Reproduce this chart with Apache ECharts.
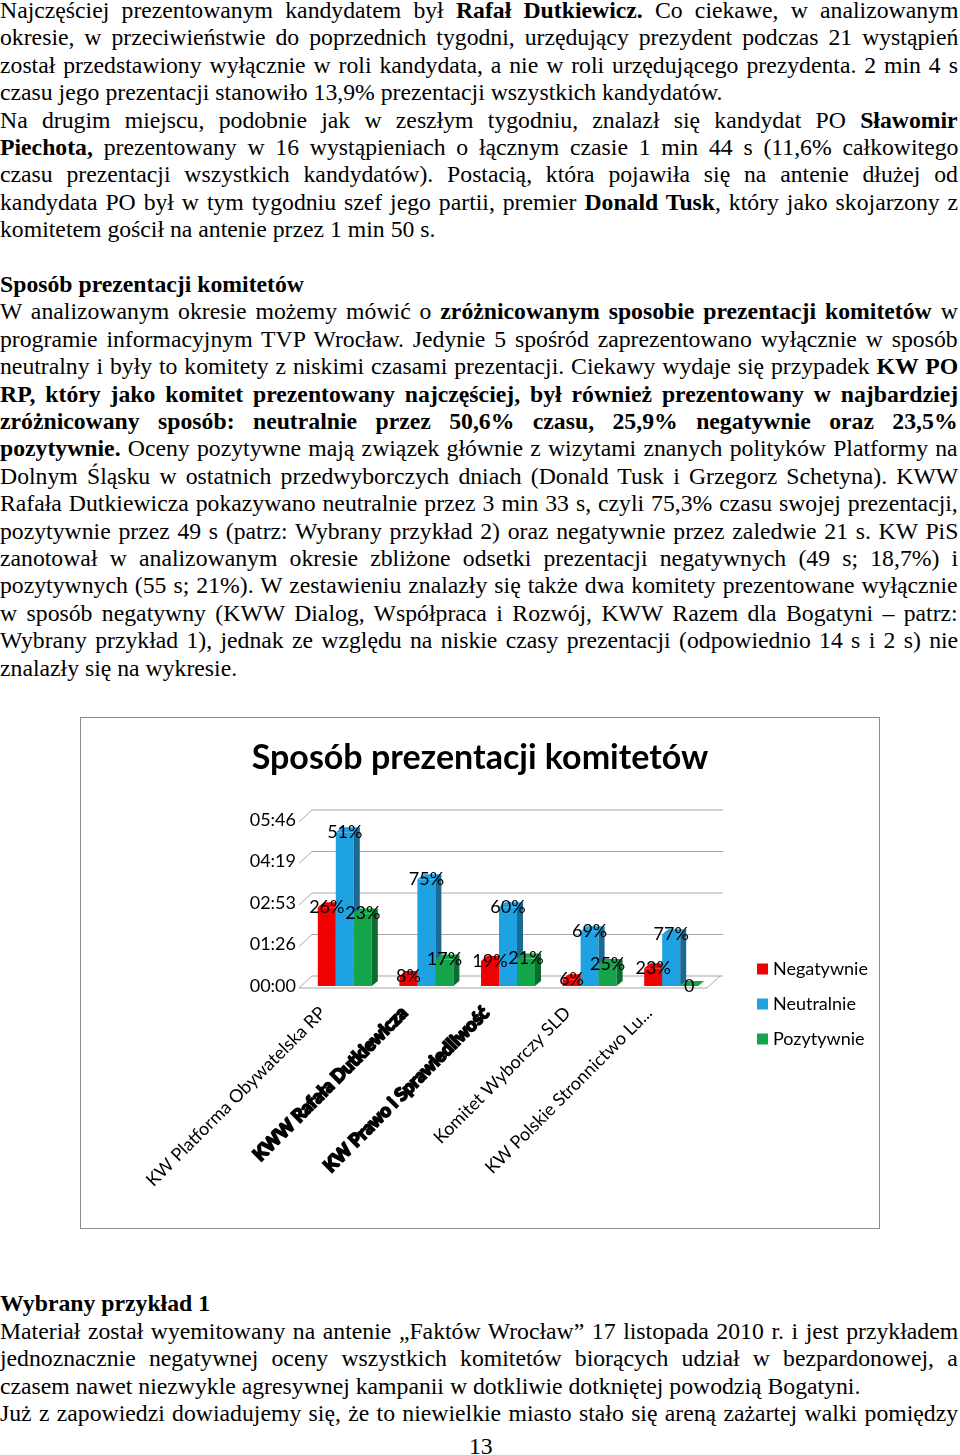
<!DOCTYPE html>
<html>
<head>
<meta charset="utf-8">
<script src="https://cdn.jsdelivr.net/npm/echarts/dist/echarts.min.js"></script>
<style>
body { margin: 0; width: 960px; height: 1455px; position: relative; overflow: hidden; background: #fff;
       font-family: "Liberation Serif", "Times New Roman", serif; font-size: 23px; color: #000; }
.ln { position: absolute; left: 0; white-space: pre; line-height: 27.4px; transform-origin: 0 0; }
#chart { position: absolute; left: 80px; top: 717px; width: 800px; height: 512px;
         border: 1px solid #8c8c8c; box-sizing: border-box; }
</style>
</head>
<body>
<div class="blk" data-top="-3">
<div class="ln j">Najczęściej prezentowanym kandydatem był <b>Rafał Dutkiewicz.</b> Co ciekawe, w analizowanym</div>
<div class="ln j">okresie, w przeciwieństwie do poprzednich tygodni, urzędujący prezydent podczas 21 wystąpień</div>
<div class="ln j">został przedstawiony wyłącznie w roli kandydata, a nie w roli urzędującego prezydenta. 2 min 4 s</div>
<div class="ln">czasu jego prezentacji stanowiło 13,9% prezentacji wszystkich kandydatów.</div>
<div class="ln j">Na drugim miejscu, podobnie jak w zeszłym tygodniu, znalazł się kandydat PO <b>Sławomir</b></div>
<div class="ln j"><b>Piechota,</b> prezentowany w 16 wystąpieniach o łącznym czasie 1 min 44 s (11,6% całkowitego</div>
<div class="ln j">czasu prezentacji wszystkich kandydatów). Postacią, która pojawiła się na antenie dłużej od</div>
<div class="ln j">kandydata PO był w tym tygodniu szef jego partii, premier <b>Donald Tusk</b>, który jako skojarzony z</div>
<div class="ln">komitetem gościł na antenie przez 1 min 50 s.</div>
<div class="ln"></div>
<div class="ln"><b>Sposób prezentacji komitetów</b></div>
<div class="ln j">W analizowanym okresie możemy mówić o <b>zróżnicowanym sposobie prezentacji komitetów</b> w</div>
<div class="ln j">programie informacyjnym TVP Wrocław. Jedynie 5 spośród zaprezentowano wyłącznie w sposób</div>
<div class="ln j">neutralny i były to komitety z niskimi czasami prezentacji. Ciekawy wydaje się przypadek <b>KW PO</b></div>
<div class="ln j"><b>RP, który jako komitet prezentowany najczęściej, był również prezentowany w najbardziej</b></div>
<div class="ln j"><b>zróżnicowany sposób: neutralnie przez 50,6% czasu, 25,9% negatywnie oraz 23,5%</b></div>
<div class="ln j"><b>pozytywnie.</b> Oceny pozytywne mają związek głównie z wizytami znanych polityków Platformy na</div>
<div class="ln j">Dolnym Śląsku w ostatnich przedwyborczych dniach (Donald Tusk i Grzegorz Schetyna). KWW</div>
<div class="ln j">Rafała Dutkiewicza pokazywano neutralnie przez 3 min 33 s, czyli 75,3% czasu swojej prezentacji,</div>
<div class="ln j">pozytywnie przez 49 s (patrz: Wybrany przykład 2) oraz negatywnie przez zaledwie 21 s. KW PiS</div>
<div class="ln j">zanotował w analizowanym okresie zbliżone odsetki prezentacji negatywnych (49 s; 18,7%) i</div>
<div class="ln j">pozytywnych (55 s; 21%). W zestawieniu znalazły się także dwa komitety prezentowane wyłącznie</div>
<div class="ln j">w sposób negatywny (KWW Dialog, Współpraca i Rozwój, KWW Razem dla Bogatyni – patrz:</div>
<div class="ln j">Wybrany przykład 1), jednak ze względu na niskie czasy prezentacji (odpowiednio 14 s i 2 s) nie</div>
<div class="ln">znalazły się na wykresie.</div>
</div>

<div id="chart"></div>

<div class="blk" data-top="1290.3">
<div class="ln"><b>Wybrany przykład 1</b></div>
<div class="ln j">Materiał został wyemitowany na antenie „Faktów Wrocław” 17 listopada 2010 r. i jest przykładem</div>
<div class="ln j">jednoznacznie negatywnej oceny wszystkich komitetów biorących udział w bezpardonowej, a</div>
<div class="ln">czasem nawet niezwykle agresywnej kampanii w dotkliwie dotkniętej powodzią Bogatyni.</div>
<div class="ln j">Już z zapowiedzi dowiadujemy się, że to niewielkie miasto stało się areną zażartej walki pomiędzy</div>
</div>
<div class="ln" id="pageno" style="top:1432.6px;left:469px">13</div>

<script>
// page text: squeeze the serif font like the scan, justify full lines
var ref = document.createElement('span');
ref.textContent = 'czasu jego prezentacji stanowiło 13,9% prezentacji wszystkich kandydatów.';
ref.style.cssText = 'position:absolute;visibility:hidden;white-space:pre;font-size:23px';
document.body.appendChild(ref);
var S = 722 / ref.offsetWidth;
document.querySelectorAll('.blk').forEach(function (blk) {
    var t0 = parseFloat(blk.dataset.top);
    Array.prototype.forEach.call(blk.children, function (ln, i) {
        ln.style.top = (t0 + 27.4 * i) + 'px';
        ln.style.transform = 'scaleX(' + S + ')';
        if (ln.classList.contains('j')) {
            var w = ln.offsetWidth;
            var n = (ln.textContent.match(/ /g) || []).length;
            ln.style.wordSpacing = ((958 / S - w) / n) + 'px';
        }
    });
});
document.getElementById('pageno').style.transform = 'scaleX(' + S + ')';

// chart data (seconds)
var categories = ['KW Platforma Obywatelska RP', 'KWW Rafała Dutkiewicza', 'KW Prawo i Sprawiedliwość',
    'Komitet Wyborczy SLD', 'KW Polskie Stronnictwo Lu...'];
var negatywnie = [164, 21, 52, 14, 37];
var neutralnie = [320, 222, 164, 114, 108];
var pozytywnie = [151, 55, 57, 46, 0];
var negLabels = ['26%', '8%', '19%', '6%', '23%'];
var neuLabels = ['51%', '75%', '60%', '69%', '77%'];
var pozLabels = ['23%', '17%', '21%', '25%', '0'];
var yTicks = [0, 86.4, 172.8, 259.2, 345.6];

var myChart = echarts.init(document.getElementById('chart'));

function mmss(v) {
    var s = Math.round(v);
    var m = Math.floor(s / 60);
    s = s % 60;
    return (m < 10 ? '0' : '') + m + ':' + (s < 10 ? '0' : '') + s;
}

var BAR_W = 18, DX = 6, DY = 5;

function barSeries(name, values, labels, si, face, side) {
    return {
        name: name,
        type: 'custom',
        xAxisIndex: 0,
        yAxisIndex: 0,
        z: 3,
        itemStyle: { color: face },
        data: values.map(function (v, i) { return [i, v]; }),
        renderItem: function (params, api) {
            var idx = api.value(0);
            var top = api.coord([idx, api.value(1)]);
            var base = api.coord([idx, 0]);
            var x = top[0] + (si - 1) * BAR_W - BAR_W / 2;
            var yt = top[1], yb = base[1];
            return {
                type: 'group',
                children: [
                    { type: 'rect', shape: { x: x, y: yt, width: BAR_W, height: yb - yt }, style: { fill: face } },
                    { type: 'polygon', shape: { points: [[x + BAR_W, yt], [x + BAR_W + DX, yt - DY], [x + BAR_W + DX, yb - DY], [x + BAR_W, yb]] },
                      style: { fill: side } },
                    { type: 'polygon', shape: { points: [[x, yt], [x + DX, yt - DY], [x + BAR_W + DX, yt - DY], [x + BAR_W, yt]] },
                      style: { fill: face } },
                    { type: 'text', z2: 10, style: { text: labels[idx], x: x + BAR_W / 2, y: yt, align: 'center', verticalAlign: 'middle',
                      font: '18px Lato', fill: '#000' } }
                ]
            };
        }
    };
}

var chartOption = {
    animation: false,
    title: {
        text: 'Sposób prezentacji komitetów',
        left: 'center',
        top: 18,
        textStyle: { fontFamily: 'Lato', fontSize: 34, fontWeight: 'bold', color: '#000' }
    },
    legend: {
        data: ['Negatywnie', 'Neutralnie', 'Pozytywnie'],
        orient: 'vertical',
        left: 671,
        top: 237,
        itemWidth: 11,
        itemHeight: 11,
        itemGap: 17,
        icon: 'rect',
        textStyle: { fontFamily: 'Lato', fontSize: 18, color: '#000' }
    },
    grid: [
        { left: 223, top: 102, width: 408, height: 166 },
        { left: 201, top: 102, width: 408, height: 166 }
    ],
    xAxis: [
        { type: 'category', gridIndex: 0, data: categories, axisLine: { show: false }, axisTick: { show: false },
          axisLabel: { show: false } },
        { type: 'category', gridIndex: 1, data: categories, axisLine: { show: false }, axisTick: { show: false },
          axisLabel: {
              interval: 0, rotate: 45, margin: 24, fontFamily: 'Lato', fontSize: 18, color: '#000',
              formatter: function (v, i) { return (i === 1 || i === 2) ? '{h|' + v + '}' : v; },
              rich: { h: { fontFamily: 'Lato', fontSize: 18, fontWeight: 'bold', color: '#000',
                           textBorderColor: '#000', textBorderWidth: 2 } }
          } }
    ],
    yAxis: [
        { type: 'value', gridIndex: 0, min: 0, max: 345.6, interval: 86.4,
          axisLine: { show: false }, axisTick: { show: false }, splitLine: { show: false },
          axisLabel: { margin: 8, fontFamily: 'Lato', fontSize: 18, color: '#000', formatter: mmss } },
        { type: 'value', gridIndex: 1, min: 0, max: 345.6, show: false }
    ],
    series: [
        {
            name: 'walls',
            type: 'custom',
            xAxisIndex: 0,
            yAxisIndex: 0,
            z: 1,
            silent: true,
            data: yTicks.map(function (v) { return [0, v]; }),
            renderItem: function (params, api) {
                var cs = params.coordSys;
                var v = api.value(1);
                var y = api.coord([0, v])[1];
                var x0 = cs.x - 5, x1 = cs.x + cs.width - 5;
                var yf = y + 2, yk = y - 10;
                var st = { stroke: '#a8a8a8', lineWidth: 1 };
                var kids = [
                    { type: 'line', shape: { x1: x0, y1: yf, x2: x0 + 13, y2: yk }, style: st },
                    { type: 'line', shape: { x1: x0 + 13, y1: yk, x2: x1 + 16, y2: yk }, style: st }
                ];
                if (v === 0) {
                    kids.push({ type: 'line', shape: { x1: x0, y1: yf, x2: x1, y2: yf }, style: st });
                    kids.push({ type: 'line', shape: { x1: x1, y1: yf, x2: x1 + 13, y2: yk }, style: st });
                }
                return { type: 'group', children: kids };
            }
        },
        barSeries('Negatywnie', negatywnie, negLabels, 0, '#f00000', '#a00000'),
        barSeries('Neutralnie', neutralnie, neuLabels, 1, '#1ea2e2', '#1a6a93'),
        barSeries('Pozytywnie', pozytywnie, pozLabels, 2, '#14a54a', '#0c6b2e')
    ]
};
myChart.setOption(chartOption);
</script>
</body>
</html>
